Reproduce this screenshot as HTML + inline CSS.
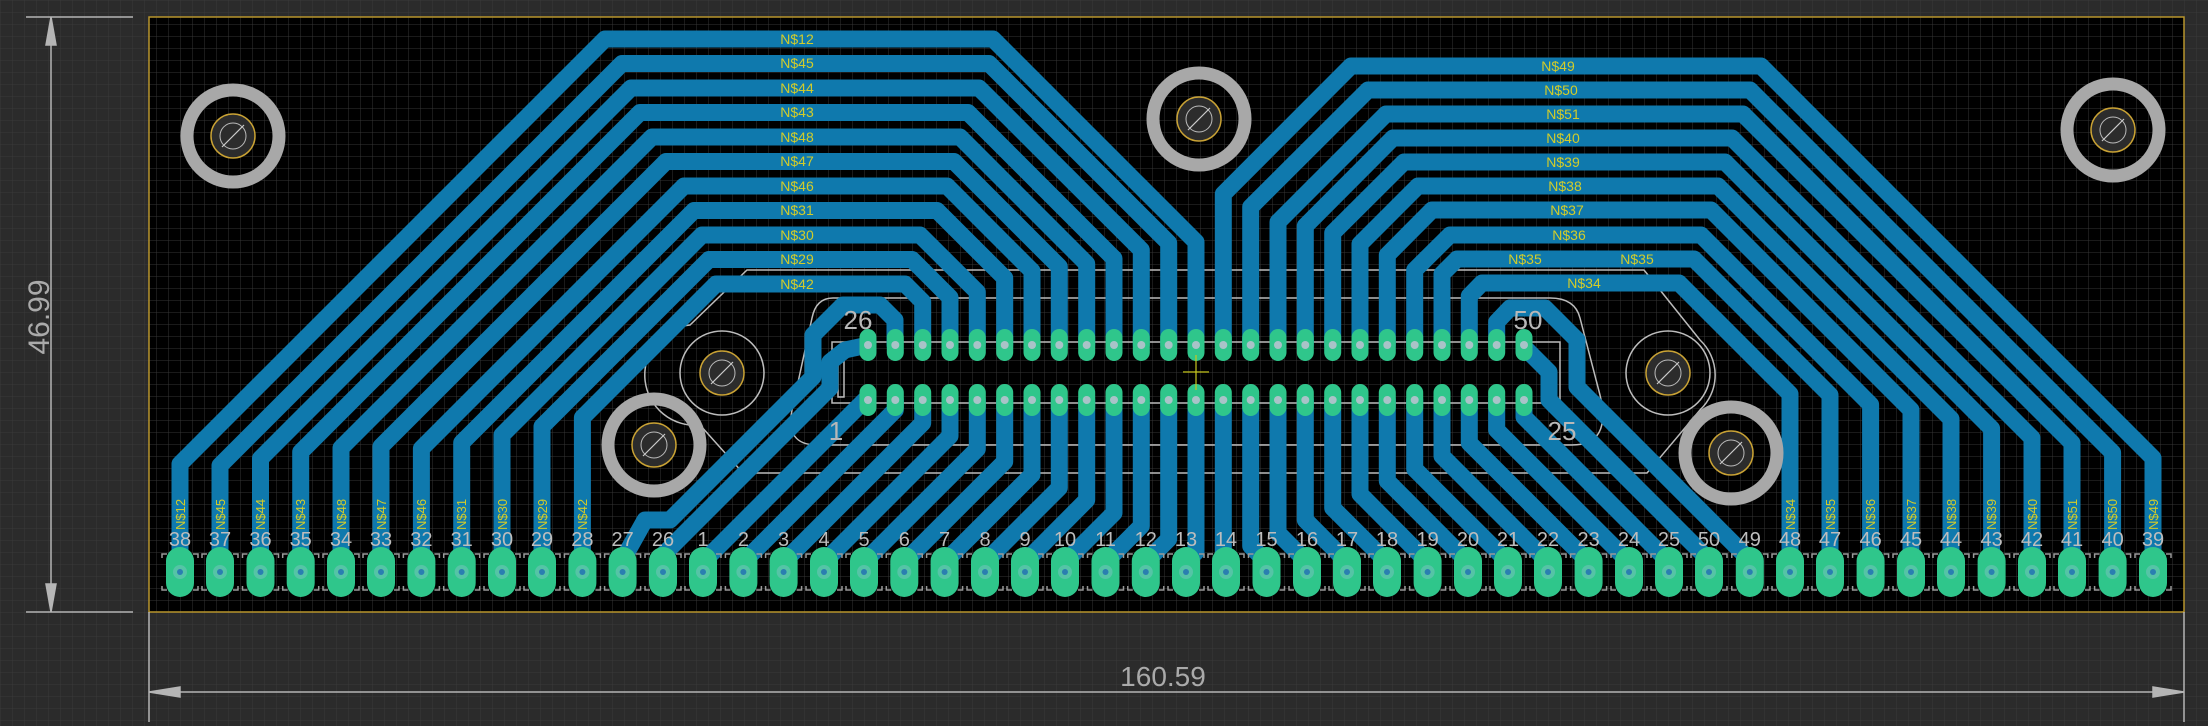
<!DOCTYPE html>
<html><head><meta charset="utf-8"><style>
html,body{margin:0;padding:0;background:#2b2b2b;}
svg{display:block;}
text{font-family:"Liberation Sans",sans-serif;}
</style></head><body>
<svg width="2208" height="726" viewBox="0 0 2208 726" xmlns="http://www.w3.org/2000/svg">
<defs>
<pattern id="gout" width="12" height="12" patternUnits="userSpaceOnUse"><rect width="12" height="12" fill="#2b2b2b"/><path d="M0 0H12M0 0V12" stroke="#3a3a3a" stroke-width="1"/></pattern>
<pattern id="gin" width="12" height="12" patternUnits="userSpaceOnUse"><rect width="12" height="12" fill="#000"/><path d="M0 0H12M0 0V12" stroke="#353535" stroke-width="1"/></pattern>
<g id="pad"><rect x="-14" y="-25" width="28" height="50" rx="14" fill="#2fc68b"/><circle r="7" fill="#55c4a6"/><circle r="3" fill="#2a7fb0"/><path d="M-18 -14V-18H-13M13 -18H18V-14M-18 14V18H-13M13 18H18V14" stroke="#999" stroke-width="1.5" fill="none"/></g>
<g id="cp"><rect x="-8.5" y="-16" width="17" height="32" rx="8.5" fill="#2fc68b"/><circle r="4" fill="#a9c3c8"/></g>
<g id="ring"><circle r="46" fill="none" stroke="#a8a8a8" stroke-width="13"/><circle r="22" fill="#2c2c2c" stroke="#c9a234" stroke-width="1.5"/><circle r="13" fill="none" stroke="#bbb" stroke-width="1"/><path d="M-11 11L11 -11" stroke="#ccc" stroke-width="1.2"/></g>
<g id="hole"><circle r="42" fill="none" stroke="#bdbdbd" stroke-width="1.5"/><circle r="22" fill="#2c2c2c" stroke="#c9a234" stroke-width="1.5"/><circle r="13" fill="none" stroke="#bbb" stroke-width="1"/><path d="M-11 11L11 -11" stroke="#ccc" stroke-width="1.2"/></g>
</defs>
<rect width="2208" height="726" fill="url(#gout)"/>
<rect x="149" y="17" width="2035" height="595" fill="url(#gin)" stroke="#b8952c" stroke-width="1.5"/>

<g stroke="#b5b5b5" stroke-width="1.5" fill="#b5b5b5">
<path d="M26 17H133M26 612H133M51 17V612" fill="none"/>
<path d="M51 17L46 45H56Z M51 612L46 584H56Z"/>
<path d="M149 612V722M2184 612V722M149 692H2184" fill="none"/>
<path d="M149 692L180 687V697Z M2184 692L2153 687V697Z"/>
</g>
<text x="41" y="317" font-size="30" fill="#aaa" text-anchor="middle" transform="rotate(-90 41 317)" dominant-baseline="middle">46.99</text>
<text x="1163" y="686" font-size="28" fill="#aaa" text-anchor="middle">160.59</text>

<g fill="none" stroke="#bcbcbc" stroke-width="1.5">
<path d="M747 270L1644 270L1700 340A48 48 0 0 1 1700 410L1647 473L743 473L700 425A48 48 0 0 1 690 325Z"/>
<path d="M833 298L1550 298Q1575 298 1580 318L1600 395Q1612 445 1572 445L817 445Q785 445 792 410L812 318Q816 298 833 298Z"/>
<rect x="832" y="342" width="728" height="61"/>
<rect x="838" y="348" width="6" height="49"/>
</g>

<g fill="none" stroke="#0f79ad" stroke-width="17" stroke-linejoin="round" stroke-linecap="round">
<polyline points="180,572 180,464 605,39 993,39 1196,242 1196,345"/>
<polyline points="220,572 220,465.5 622,63.5 989,63.5 1168.7,243 1168.7,345"/>
<polyline points="260.5,572 260.5,458.5 631,88 979,88 1141.3,250 1141.3,345"/>
<polyline points="300.7,572 300.7,452 640,112.5 968,112.5 1114,258.5 1114,345"/>
<polyline points="341,572 341,448 652,137 960,137 1086.7,263.7 1086.7,345"/>
<polyline points="381,572 381,446.5 666,161.5 954,161.5 1059.3,266.8 1059.3,345"/>
<polyline points="421.4,572 421.4,448.6 684,186 947,186 1032,271 1032,345"/>
<polyline points="461.7,572 461.7,442.8 694,210.5 937,210.5 1004.7,278 1004.7,345"/>
<polyline points="502,572 502,435 702,235 920,235 977.3,292 977.3,345"/>
<polyline points="542,572 542,426.5 709,259.5 912,259.5 950,297.5 950,345"/>
<polyline points="582.4,572 582.4,417.6 716,284 905,284 922.7,301.7 922.7,345"/>

<polyline points="2153,572 2153,458 1761,66 1351,66 1223.3,194 1223.3,345"/>
<polyline points="2112.6,572 2112.6,452.6 1750,90 1368,90 1250.7,207 1250.7,345"/>
<polyline points="2072,572 2072,443 1743,114 1386,114 1278,222 1278,345"/>
<polyline points="2032,572 2032,438 1732,138 1393,138 1305.3,226 1305.3,345"/>
<polyline points="1991.6,572 1991.6,428.6 1725,162 1404,162 1332.7,233 1332.7,345"/>
<polyline points="1951,572 1951,419 1718,186 1418,186 1360,244 1360,345"/>
<polyline points="1911,572 1911,410 1711,210 1432,210 1387.3,255 1387.3,345"/>
<polyline points="1870.6,572 1870.6,404.6 1701,235 1450,235 1414.7,270 1414.7,345"/>
<polyline points="1830,572 1830,395 1694,259 1457,259 1442,274 1442,345"/>
<polyline points="1790,572 1790,394 1679,283 1482,283 1469.3,296 1469.3,345"/>

<polyline points="622.6,572 622.6,560 645,520 670,520 813,377 813,335 843,305 880,305 895,320 895,345"/>
<polyline points="663,572 663,555 830,388 830,362 845,350 868,345"/>

<polyline points="703,572 703,562 868,397 868,400"/>
<polyline points="743.4,572 743.4,562 895.3,410 895.3,400"/>
<polyline points="783.6,572 783.6,562 922.7,423 922.7,400"/>
<polyline points="824,572 824,562 950,436 950,400"/>
<polyline points="864,572 864,562 977.3,449 977.3,400"/>
<polyline points="904.3,572 904.3,562 1004.7,461.6 1004.7,400"/>
<polyline points="944.6,572 944.6,562 1032,474.6 1032,400"/>
<polyline points="985,572 985,562 1059.3,487.7 1059.3,400"/>
<polyline points="1025,572 1025,562 1086.7,500 1086.7,400"/>
<polyline points="1065,572 1065,562 1114,513 1114,400"/>
<polyline points="1105.5,572 1105.5,562 1141.3,526 1141.3,400"/>
<polyline points="1145.8,572 1145.8,562 1168.7,539 1168.7,400"/>
<polyline points="1186,572 1186,562 1196,552 1196,400"/>
<polyline points="1226,572 1223.3,559 1223.3,400"/>
<polyline points="1266.5,572 1266.5,562 1250.7,546 1250.7,400"/>
<polyline points="1307,572 1307,562 1278,533 1278,400"/>
<polyline points="1347,572 1347,562 1305.3,520 1305.3,400"/>
<polyline points="1387,572 1387,562 1332.7,508 1332.7,400"/>
<polyline points="1427.6,572 1427.6,562 1360,494 1360,400"/>
<polyline points="1468,572 1468,562 1387.3,481 1387.3,400"/>
<polyline points="1508,572 1508,562 1414.7,469 1414.7,400"/>
<polyline points="1548,572 1548,562 1442,456 1442,400"/>
<polyline points="1588.6,572 1588.6,562 1469.3,443 1469.3,400"/>
<polyline points="1629,572 1629,562 1496.7,430 1496.7,400"/>
<polyline points="1669,572 1669,562 1524,417 1524,400"/>

<polyline points="1709,572 1709,560 1549,400 1549,372 1524,347"/>
<polyline points="1749.8,572 1749.8,560 1577,387 1577,340 1545,308 1510,308 1496.7,322 1496.7,345"/>
</g>

<g font-size="14" fill="#d2cc2a" text-anchor="middle">
<text x="797" y="44">N$12</text><text x="797" y="68">N$45</text><text x="797" y="93">N$44</text><text x="797" y="117">N$43</text>
<text x="797" y="142">N$48</text><text x="797" y="166">N$47</text><text x="797" y="191">N$46</text><text x="797" y="215">N$31</text>
<text x="797" y="240">N$30</text><text x="797" y="264">N$29</text><text x="797" y="289">N$42</text>
<text x="1558" y="71">N$49</text><text x="1561" y="95">N$50</text><text x="1563" y="119">N$51</text><text x="1563" y="143">N$40</text>
<text x="1563" y="167">N$39</text><text x="1565" y="191">N$38</text><text x="1567" y="215">N$37</text><text x="1569" y="240">N$36</text>
<text x="1525" y="264">N$35</text><text x="1637" y="264">N$35</text><text x="1584" y="288">N$34</text>
</g>
<g font-size="13" fill="#d2cc2a">
<text transform="translate(185,530) rotate(-90)">N$12</text><text transform="translate(225,530) rotate(-90)">N$45</text>
<text transform="translate(265,530) rotate(-90)">N$44</text><text transform="translate(305,530) rotate(-90)">N$43</text>
<text transform="translate(346,530) rotate(-90)">N$48</text><text transform="translate(386,530) rotate(-90)">N$47</text>
<text transform="translate(426,530) rotate(-90)">N$46</text><text transform="translate(466,530) rotate(-90)">N$31</text>
<text transform="translate(507,530) rotate(-90)">N$30</text><text transform="translate(547,530) rotate(-90)">N$29</text>
<text transform="translate(587,530) rotate(-90)">N$42</text>
<text transform="translate(1795,530) rotate(-90)">N$34</text><text transform="translate(1835,530) rotate(-90)">N$35</text>
<text transform="translate(1875,530) rotate(-90)">N$36</text><text transform="translate(1916,530) rotate(-90)">N$37</text>
<text transform="translate(1956,530) rotate(-90)">N$38</text><text transform="translate(1996,530) rotate(-90)">N$39</text>
<text transform="translate(2037,530) rotate(-90)">N$40</text><text transform="translate(2077,530) rotate(-90)">N$51</text>
<text transform="translate(2117,530) rotate(-90)">N$50</text><text transform="translate(2158,530) rotate(-90)">N$49</text>
</g>

<use href="#ring" x="233" y="136"/>
<use href="#ring" x="1199" y="119"/>
<use href="#ring" x="2113" y="130"/>
<use href="#ring" x="654" y="445"/>
<use href="#ring" x="1731" y="453"/>
<use href="#hole" x="722" y="373"/>
<use href="#hole" x="1668" y="373"/>

<g>
<use href="#cp" x="868" y="345"/><use href="#cp" x="895.3" y="345"/><use href="#cp" x="922.7" y="345"/><use href="#cp" x="950" y="345"/><use href="#cp" x="977.3" y="345"/>
<use href="#cp" x="1004.7" y="345"/><use href="#cp" x="1032" y="345"/><use href="#cp" x="1059.3" y="345"/><use href="#cp" x="1086.7" y="345"/><use href="#cp" x="1114" y="345"/>
<use href="#cp" x="1141.3" y="345"/><use href="#cp" x="1168.7" y="345"/><use href="#cp" x="1196" y="345"/><use href="#cp" x="1223.3" y="345"/><use href="#cp" x="1250.7" y="345"/>
<use href="#cp" x="1278" y="345"/><use href="#cp" x="1305.3" y="345"/><use href="#cp" x="1332.7" y="345"/><use href="#cp" x="1360" y="345"/><use href="#cp" x="1387.3" y="345"/>
<use href="#cp" x="1414.7" y="345"/><use href="#cp" x="1442" y="345"/><use href="#cp" x="1469.3" y="345"/><use href="#cp" x="1496.7" y="345"/><use href="#cp" x="1524" y="345"/>
<use href="#cp" x="868" y="400"/><use href="#cp" x="895.3" y="400"/><use href="#cp" x="922.7" y="400"/><use href="#cp" x="950" y="400"/><use href="#cp" x="977.3" y="400"/>
<use href="#cp" x="1004.7" y="400"/><use href="#cp" x="1032" y="400"/><use href="#cp" x="1059.3" y="400"/><use href="#cp" x="1086.7" y="400"/><use href="#cp" x="1114" y="400"/>
<use href="#cp" x="1141.3" y="400"/><use href="#cp" x="1168.7" y="400"/><use href="#cp" x="1196" y="400"/><use href="#cp" x="1223.3" y="400"/><use href="#cp" x="1250.7" y="400"/>
<use href="#cp" x="1278" y="400"/><use href="#cp" x="1305.3" y="400"/><use href="#cp" x="1332.7" y="400"/><use href="#cp" x="1360" y="400"/><use href="#cp" x="1387.3" y="400"/>
<use href="#cp" x="1414.7" y="400"/><use href="#cp" x="1442" y="400"/><use href="#cp" x="1469.3" y="400"/><use href="#cp" x="1496.7" y="400"/><use href="#cp" x="1524" y="400"/>
</g>
<path d="M1196 355V390M1183 372H1209" stroke="#c8c820" stroke-width="1.2"/>
<g font-size="26" fill="#b8b8b8" text-anchor="middle">
<text x="858" y="329">26</text><text x="1528" y="329">50</text><text x="836" y="440">1</text><text x="1562" y="440">25</text>
</g>

<g>
<use href="#pad" x="180" y="572"/><use href="#pad" x="220" y="572"/><use href="#pad" x="260.5" y="572"/><use href="#pad" x="300.7" y="572"/><use href="#pad" x="341" y="572"/>
<use href="#pad" x="381" y="572"/><use href="#pad" x="421.4" y="572"/><use href="#pad" x="461.7" y="572"/><use href="#pad" x="502" y="572"/><use href="#pad" x="542" y="572"/>
<use href="#pad" x="582.4" y="572"/><use href="#pad" x="622.6" y="572"/><use href="#pad" x="663" y="572"/><use href="#pad" x="703" y="572"/><use href="#pad" x="743.4" y="572"/>
<use href="#pad" x="783.6" y="572"/><use href="#pad" x="824" y="572"/><use href="#pad" x="864" y="572"/><use href="#pad" x="904.3" y="572"/><use href="#pad" x="944.6" y="572"/>
<use href="#pad" x="985" y="572"/><use href="#pad" x="1025" y="572"/><use href="#pad" x="1065" y="572"/><use href="#pad" x="1105.5" y="572"/><use href="#pad" x="1145.8" y="572"/>
<use href="#pad" x="1186" y="572"/><use href="#pad" x="1226" y="572"/><use href="#pad" x="1266.5" y="572"/><use href="#pad" x="1307" y="572"/><use href="#pad" x="1347" y="572"/>
<use href="#pad" x="1387" y="572"/><use href="#pad" x="1427.6" y="572"/><use href="#pad" x="1468" y="572"/><use href="#pad" x="1508" y="572"/><use href="#pad" x="1548" y="572"/>
<use href="#pad" x="1588.6" y="572"/><use href="#pad" x="1629" y="572"/><use href="#pad" x="1669" y="572"/><use href="#pad" x="1709" y="572"/><use href="#pad" x="1749.8" y="572"/>
<use href="#pad" x="1790" y="572"/><use href="#pad" x="1830" y="572"/><use href="#pad" x="1870.6" y="572"/><use href="#pad" x="1911" y="572"/><use href="#pad" x="1951" y="572"/>
<use href="#pad" x="1991.6" y="572"/><use href="#pad" x="2032" y="572"/><use href="#pad" x="2072" y="572"/><use href="#pad" x="2112.6" y="572"/><use href="#pad" x="2153" y="572"/>
</g>
<g font-size="20" fill="#bdbdbd" text-anchor="middle">
<text x="180" y="546">38</text><text x="220" y="546">37</text><text x="260.5" y="546">36</text><text x="300.7" y="546">35</text><text x="341" y="546">34</text>
<text x="381" y="546">33</text><text x="421.4" y="546">32</text><text x="461.7" y="546">31</text><text x="502" y="546">30</text><text x="542" y="546">29</text>
<text x="582.4" y="546">28</text><text x="622.6" y="546">27</text><text x="663" y="546">26</text><text x="703" y="546">1</text><text x="743.4" y="546">2</text>
<text x="783.6" y="546">3</text><text x="824" y="546">4</text><text x="864" y="546">5</text><text x="904.3" y="546">6</text><text x="944.6" y="546">7</text>
<text x="985" y="546">8</text><text x="1025" y="546">9</text><text x="1065" y="546">10</text><text x="1105.5" y="546">11</text><text x="1145.8" y="546">12</text>
<text x="1186" y="546">13</text><text x="1226" y="546">14</text><text x="1266.5" y="546">15</text><text x="1307" y="546">16</text><text x="1347" y="546">17</text>
<text x="1387" y="546">18</text><text x="1427.6" y="546">19</text><text x="1468" y="546">20</text><text x="1508" y="546">21</text><text x="1548" y="546">22</text>
<text x="1588.6" y="546">23</text><text x="1629" y="546">24</text><text x="1669" y="546">25</text><text x="1709" y="546">50</text><text x="1749.8" y="546">49</text>
<text x="1790" y="546">48</text><text x="1830" y="546">47</text><text x="1870.6" y="546">46</text><text x="1911" y="546">45</text><text x="1951" y="546">44</text>
<text x="1991.6" y="546">43</text><text x="2032" y="546">42</text><text x="2072" y="546">41</text><text x="2112.6" y="546">40</text><text x="2153" y="546">39</text>
</g>
</svg>
</body></html>
